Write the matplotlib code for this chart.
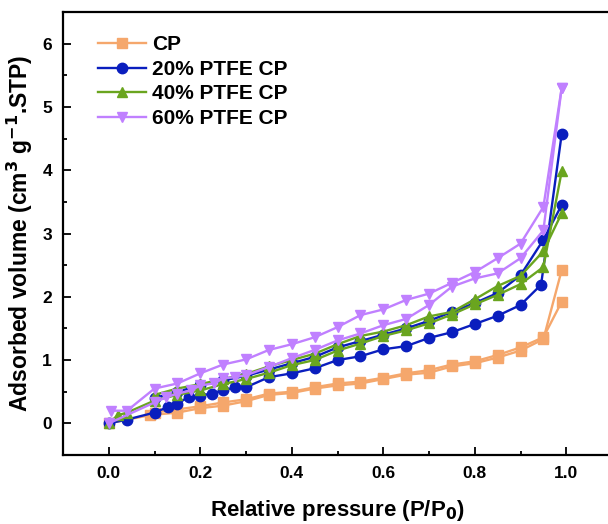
import matplotlib
matplotlib.use('Agg')
import matplotlib.pyplot as plt
from matplotlib.ticker import MultipleLocator

plt.rcParams['font.family'] = ['Liberation Sans', 'DejaVu Sans']
plt.rcParams['font.weight'] = 'bold'

labels = ['CP', '20% PTFE CP', '40% PTFE CP', '60% PTFE CP']
colors = ['#F5A76C', '#0A1EBE', '#6AA51F', '#C080FF']
markers = ['s', 'o', '^', 'v']

# adsorption branches
cp_ads_x = [0.0, 0.09, 0.15, 0.2, 0.25, 0.3, 0.35, 0.4, 0.45, 0.5, 0.55, 0.6, 0.65, 0.7, 0.75, 0.8, 0.85, 0.9, 0.95, 0.99]
cp_ads_y = [0.0, 0.13, 0.17, 0.24, 0.28, 0.35, 0.45, 0.48, 0.55, 0.6, 0.63, 0.7, 0.77, 0.8, 0.9, 0.95, 1.04, 1.15, 1.33, 2.42]
p20_ads_x = [0.0, 0.04, 0.1, 0.13, 0.15, 0.175, 0.2, 0.225, 0.25, 0.275, 0.3, 0.35, 0.4, 0.45, 0.5, 0.55, 0.6, 0.65, 0.7, 0.75, 0.8, 0.85, 0.9, 0.945, 0.99]
p20_ads_y = [0.0, 0.06, 0.17, 0.26, 0.31, 0.42, 0.44, 0.47, 0.52, 0.57, 0.57, 0.73, 0.79, 0.87, 1.0, 1.06, 1.17, 1.22, 1.35, 1.44, 1.57, 1.7, 1.87, 2.19, 4.57]
p40_ads_x = [0.0, 0.02, 0.04, 0.1, 0.15, 0.2, 0.25, 0.3, 0.35, 0.4, 0.45, 0.5, 0.55, 0.6, 0.65, 0.7, 0.75, 0.8, 0.85, 0.9, 0.95, 0.99]
p40_ads_y = [0.0, 0.13, 0.17, 0.36, 0.45, 0.52, 0.62, 0.7, 0.8, 0.92, 1.0, 1.15, 1.26, 1.38, 1.47, 1.58, 1.72, 1.88, 2.03, 2.2, 2.47, 3.98]
p60_ads_x = [0.0, 0.1, 0.125, 0.15, 0.18, 0.2, 0.23, 0.25, 0.275, 0.3, 0.35, 0.4, 0.45, 0.5, 0.55, 0.6, 0.65, 0.7, 0.75, 0.8, 0.85, 0.9, 0.95, 0.99]
p60_ads_y = [0.0, 0.33, 0.41, 0.47, 0.52, 0.6, 0.63, 0.71, 0.73, 0.76, 0.89, 1.03, 1.16, 1.31, 1.42, 1.55, 1.65, 1.87, 2.16, 2.29, 2.37, 2.61, 3.05, 5.3]

# desorption branches
cp_des_x = [0.99, 0.95, 0.9, 0.85, 0.8, 0.75, 0.7, 0.65, 0.6, 0.55, 0.5, 0.45, 0.4, 0.35, 0.3, 0.25, 0.2, 0.15, 0.1]
cp_des_y = [1.92, 1.36, 1.2, 1.08, 0.98, 0.93, 0.84, 0.79, 0.72, 0.66, 0.63, 0.57, 0.5, 0.47, 0.38, 0.33, 0.27, 0.22, 0.17]
p20_des_x = [0.99, 0.95, 0.9, 0.85, 0.8, 0.75, 0.7, 0.65, 0.6, 0.55, 0.5, 0.45, 0.4, 0.35, 0.3, 0.25, 0.2, 0.15, 0.1]
p20_des_y = [3.45, 2.9, 2.34, 2.06, 1.9, 1.76, 1.62, 1.5, 1.4, 1.3, 1.2, 1.05, 0.95, 0.85, 0.75, 0.68, 0.6, 0.5, 0.4]
p40_des_x = [0.99, 0.95, 0.9, 0.85, 0.8, 0.75, 0.7, 0.65, 0.6, 0.55, 0.5, 0.45, 0.4, 0.35, 0.3, 0.25, 0.2, 0.15, 0.1]
p40_des_y = [3.32, 2.72, 2.33, 2.17, 1.96, 1.76, 1.69, 1.55, 1.45, 1.38, 1.25, 1.1, 1.0, 0.9, 0.78, 0.7, 0.62, 0.55, 0.45]
p60_des_x = [0.99, 0.95, 0.9, 0.85, 0.8, 0.75, 0.7, 0.65, 0.6, 0.55, 0.5, 0.45, 0.4, 0.35, 0.3, 0.25, 0.2, 0.15, 0.1, 0.04, 0.005]
p60_des_y = [5.3, 3.42, 2.84, 2.61, 2.39, 2.22, 2.05, 1.95, 1.8, 1.71, 1.52, 1.36, 1.25, 1.16, 1.01, 0.93, 0.79, 0.63, 0.55, 0.2, 0.2]

ads = [(cp_ads_x, cp_ads_y), (p20_ads_x, p20_ads_y), (p40_ads_x, p40_ads_y), (p60_ads_x, p60_ads_y)]
des = [(cp_des_x, cp_des_y), (p20_des_x, p20_des_y), (p40_des_x, p40_des_y), (p60_des_x, p60_des_y)]

fig = plt.figure(figsize=(6.08, 5.24), dpi=100)
ax = fig.add_axes([63/608, 69/524, 549/608, 443/524])

for i in range(4):
    ax.plot(ads[i][0], ads[i][1], color=colors[i], marker=markers[i], ms=7.5, lw=1.7, label=labels[i])
    ax.plot(des[i][0], des[i][1], color=colors[i], marker=markers[i], ms=7.5, lw=1.7)

ax.set_xlim(-0.1, 1.1)
ax.set_ylim(-0.5, 6.5)
ax.xaxis.set_major_locator(MultipleLocator(0.2))
ax.xaxis.set_minor_locator(MultipleLocator(0.1))
ax.yaxis.set_major_locator(MultipleLocator(1))
ax.yaxis.set_minor_locator(MultipleLocator(0.5))
ax.set_xticks([0.0, 0.2, 0.4, 0.6, 0.8, 1.0])
ax.set_xticklabels(['0.0', '0.2', '0.4', '0.6', '0.8', '1.0'])
ax.tick_params(which='major', direction='in', length=6, width=1.3, labelsize=12.5, pad=8)
ax.tick_params(which='minor', direction='in', length=3, width=1.3)
for s in ax.spines.values():
    s.set_linewidth(1.6)

ax.set_xlabel('Relative pressure (P/P$_\\mathbf{0}$)', fontsize=16, fontweight='bold', labelpad=12)
ax.set_ylabel('Adsorbed volume (cm$^\\mathbf{3}$ g$^\\mathbf{-1}$.STP)', fontsize=16.5, fontweight='bold', labelpad=5)

ax.legend(loc='upper left', bbox_to_anchor=(0.03, 0.99), frameon=False, fontsize=15,
          handlelength=2.3, handletextpad=0.3, labelspacing=0.27)

fig.savefig('out.png', dpi=100)
